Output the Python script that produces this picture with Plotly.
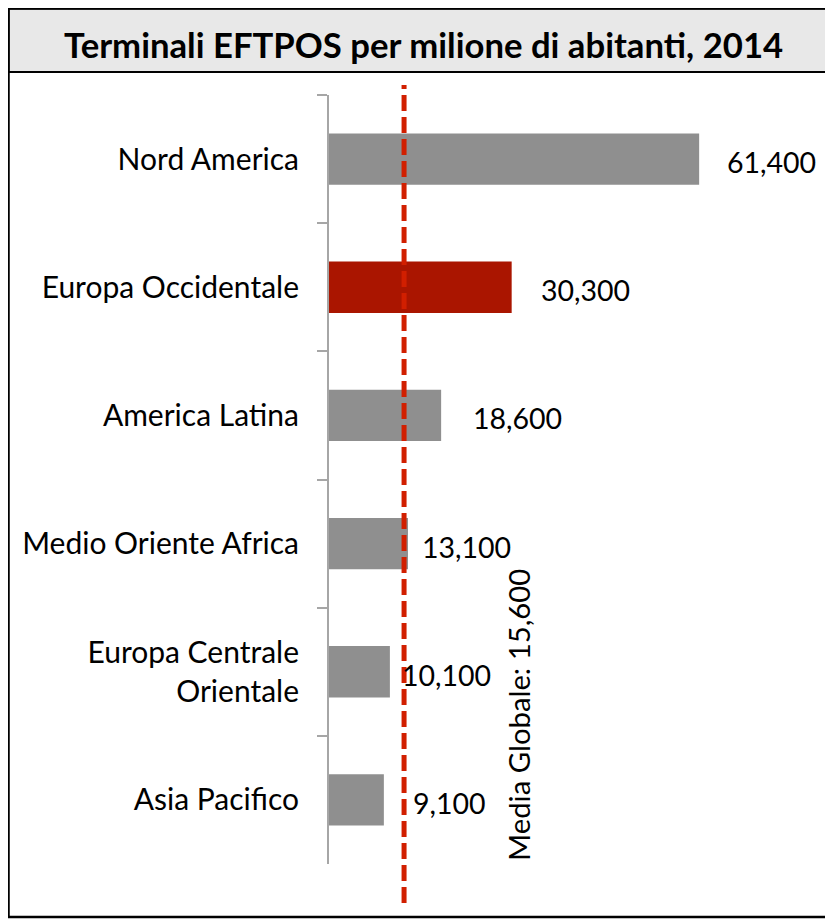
import plotly.graph_objects as go

# ---- data ----
categories = ["Nord America", "Europa Occidentale", "America Latina",
              "Medio Oriente Africa", "Europa Centrale<br>Orientale", "Asia Pacifico"]
values = [61400, 30300, 18600, 13100, 10100, 9100]
value_labels = ["61,400", "30,300", "18,600", "13,100", "10,100", "9,100"]
highlight = "Europa Occidentale"
title_text = "Terminali EFTPOS per milione di abitanti, 2014"
media_label = "Media Globale: 15,600"
media_line_pos = 12450   # where the dashed reference line is drawn in the picture

# ---- styling ----
label_shift_px = [26, 27, 30, 12, 10, 27]   # manual label offsets as in the original
FONT = "Lato"
W, H = 833, 919
OFF = 8  # page body margin
L, R, T, B = 329 - OFF, 751 - OFF, 95 - OFF, 864 - OFF


def px(X):
    return (X - OFF - L) / (R - L)


def py(Y):
    return (B - (Y - OFF)) / (B - T)


colors = ["#aa1500" if c == highlight else "#8f8f8f" for c in categories]

fig = go.Figure(go.Bar(
    x=values, y=categories, orientation="h",
    marker=dict(color=colors, line=dict(width=0)),
    width=0.4, hoverinfo="skip",
))

fig.update_layout(
    width=W, height=H,
    margin=dict(l=L, r=W - R, t=T, b=H - B, pad=0),
    paper_bgcolor="white", plot_bgcolor="white",
    showlegend=False,
    font=dict(family=FONT, color="black"),
    xaxis=dict(visible=False, range=[0, 70000], fixedrange=True),
    yaxis=dict(
        type="category", autorange="reversed",
        showline=True, linecolor="#a6a6a6", linewidth=2,
        ticks="outside", ticklen=10, tickwidth=2, tickcolor="#a6a6a6",
        tickson="boundaries", showgrid=False, zeroline=False,
        tickfont=dict(family=FONT, size=30, color="black"),
        ticklabelstandoff=22, fixedrange=True,
    ),
)

shapes = [
    dict(type="rect", xref="paper", yref="paper",
         x0=px(8.5), x1=px(845), y0=py(72), y1=py(8.5),
         fillcolor="#e8e8e8", line=dict(color="black", width=2), layer="below"),
    dict(type="rect", xref="paper", yref="paper",
         x0=px(8.5), x1=px(845), y0=py(917), y1=py(8.5),
         fillcolor="rgba(0,0,0,0)", line=dict(color="black", width=2.5)),
    dict(type="line", xref="x", yref="paper",
         x0=media_line_pos, x1=media_line_pos, y0=py(903), y1=py(85),
         line=dict(color="#d11f00", width=5, dash="16px,6px")),
]

annotations = [
    dict(xref="paper", yref="paper", x=px(423.5), y=py(45),
         text="<b>" + title_text + "</b>", showarrow=False,
         xanchor="center", yanchor="middle",
         font=dict(family=FONT, size=34.7, color="black")),
    dict(xref="paper", yref="paper", x=px(518), y=py(715),
         text=media_label, showarrow=False, textangle=-90,
         xanchor="center", yanchor="middle",
         font=dict(family=FONT, size=29.3, color="black")),
]
for cat, v, lab, sh in zip(categories, values, value_labels, label_shift_px):
    annotations.append(dict(
        xref="x", yref="y", x=v, y=cat, text=lab, showarrow=False,
        xanchor="left", yanchor="middle", xshift=sh, yshift=-3,
        font=dict(family=FONT, size=28.5, color="black")))

fig.update_layout(shapes=shapes, annotations=annotations)
fig.write_html("out.html")
